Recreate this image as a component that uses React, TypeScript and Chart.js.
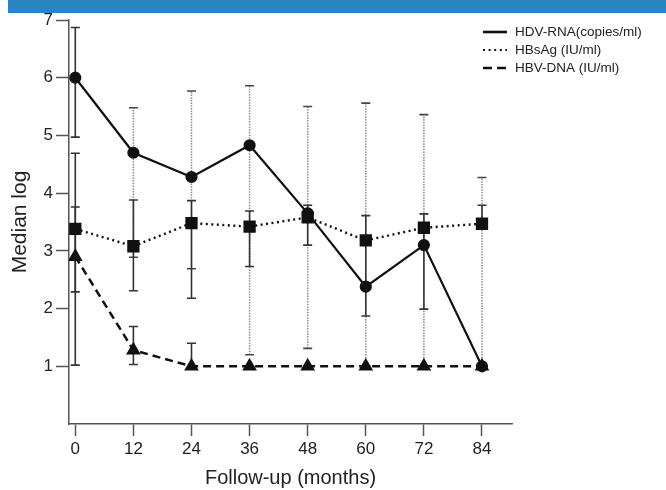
import React, { useEffect, useRef } from 'react';
import { Chart, registerables } from 'chart.js';

Chart.register(...registerables);

// ---- data ----
const months = [0, 12, 24, 36, 48, 60, 72, 84];
const seriesLabels = ['HDV-RNA(copies/ml)', 'HBsAg (IU/ml)', 'HBV-DNA (IU/ml)'];

const hdvRna = [6.0, 4.7, 4.28, 4.83, 3.65, 2.38, 3.1, 1.0];
const hdvLow = [4.97, 2.89, 2.69, 1.2, 1.31, 1.0, 1.0, 1.0];
const hdvHigh = [6.87, 5.48, 5.77, 5.86, 5.5, 5.56, 5.36, 4.27];

const hbsAg = [3.38, 3.08, 3.48, 3.42, 3.58, 3.18, 3.4, 3.47];
const hbsLow = [2.29, 2.31, 2.18, 2.73, 3.1, 1.87, 1.99, 3.46];
const hbsHigh = [4.69, 3.88, 3.87, 3.69, 3.79, 3.61, 3.64, 3.79];

const hbvDna = [2.9, 1.28, 1.0, 1.0, 1.0, 1.0, 1.0, 1.0];
const hbvLow = [1.02, 1.03, 1.0, null, null, null, null, null];
const hbvHigh = [3.76, 1.69, 1.4, null, null, null, null, null];

const yTickValues = [1, 2, 3, 4, 5, 6, 7];

const FONT = '"Liberation Sans", Arial, Helvetica, sans-serif';
const INK = '#111';
const AXIS = '#555';

const toPoints = (vals: number[]) => months.map((m, i) => ({ x: m, y: vals[i] }));

const bannerPlugin = {
  id: 'banner',
  beforeDraw(chart: any) {
    const { ctx } = chart;
    ctx.save();
    ctx.fillStyle = '#fff';
    ctx.fillRect(0, 0, chart.width, chart.height);
    ctx.fillStyle = '#2A86C3';
    ctx.fillRect(8, 0, chart.width - 8, 13);
    ctx.restore();
  },
};

const errorBarPlugin = {
  id: 'errorBars',
  beforeDatasetsDraw(chart: any) {
    const { ctx } = chart;
    const xs = chart.scales.x;
    const ys = chart.scales.y;
    const segs: any[] = [];
    chart.data.datasets.forEach((ds: any) => {
      if (!ds.errLow) return;
      ds.data.forEach((p: any, i: number) => {
        const lo = ds.errLow[i];
        const hi = ds.errHigh[i];
        if (lo == null || hi == null) return;
        const dotted = ds.errDotted && !(ds.errSolidAt || []).includes(i);
        segs.push({
          x: xs.getPixelForValue(p.x),
          y1: ys.getPixelForValue(lo),
          y2: ys.getPixelForValue(hi),
          dotted,
        });
      });
    });
    segs.sort((a, b) => (a.dotted === b.dotted ? 0 : a.dotted ? -1 : 1));
    ctx.save();
    ctx.lineCap = 'butt';
    segs.forEach((s) => {
      if (s.dotted) {
        ctx.strokeStyle = '#8a8a8a';
        ctx.lineWidth = 1.5;
        ctx.setLineDash([1.5, 1.2]);
      } else {
        ctx.strokeStyle = '#333';
        ctx.lineWidth = 1.6;
        ctx.setLineDash([]);
      }
      ctx.beginPath();
      ctx.moveTo(s.x, s.y1);
      ctx.lineTo(s.x, s.y2);
      ctx.stroke();
      ctx.setLineDash([]);
      ctx.strokeStyle = s.dotted ? '#444' : '#333';
      ctx.lineWidth = 1.6;
      const hw = 4.5;
      ctx.beginPath();
      ctx.moveTo(s.x - hw, s.y1);
      ctx.lineTo(s.x + hw, s.y1);
      ctx.moveTo(s.x - hw, s.y2);
      ctx.lineTo(s.x + hw, s.y2);
      ctx.stroke();
    });
    ctx.restore();
  },
};

const legendPlugin = {
  id: 'customLegend',
  afterDraw(chart: any) {
    const { ctx } = chart;
    const rows = [
      { dash: [] as number[], width: 2.6, y: 32 },
      { dash: [2, 3.6], width: 2.2, y: 50 },
      { dash: [9, 5], width: 2.6, y: 68 },
    ];
    ctx.save();
    ctx.font = `13.5px ${FONT}`;
    ctx.textBaseline = 'middle';
    ctx.textAlign = 'left';
    rows.forEach((r, i) => {
      ctx.strokeStyle = INK;
      ctx.lineWidth = r.width;
      ctx.setLineDash(r.dash);
      ctx.beginPath();
      ctx.moveTo(483, r.y);
      ctx.lineTo(507, r.y);
      ctx.stroke();
      ctx.setLineDash([]);
      ctx.fillStyle = '#222';
      ctx.fillText(chart.data.datasets[i].label, 515, r.y);
    });
    ctx.restore();
  },
};

export default function App() {
  const ref = useRef<HTMLCanvasElement>(null);

  useEffect(() => {
    if (!ref.current) return;
    const chart = new Chart(ref.current, {
      type: 'line',
      data: {
        datasets: [
          {
            label: seriesLabels[0],
            data: toPoints(hdvRna),
            borderColor: INK,
            backgroundColor: INK,
            borderWidth: 2.2,
            pointStyle: 'circle',
            pointRadius: 5,
            pointBackgroundColor: INK,
            pointBorderColor: INK,
            tension: 0,
            errLow: hdvLow,
            errHigh: hdvHigh,
            errDotted: true,
            errSolidAt: [0],
          } as any,
          {
            label: seriesLabels[1],
            data: toPoints(hbsAg),
            borderColor: INK,
            backgroundColor: INK,
            borderWidth: 2.4,
            borderDash: [2, 3.5],
            pointStyle: 'rect',
            pointRadius: 7,
            pointBackgroundColor: INK,
            pointBorderColor: INK,
            tension: 0,
            errLow: hbsLow,
            errHigh: hbsHigh,
          } as any,
          {
            label: seriesLabels[2],
            data: toPoints(hbvDna),
            borderColor: INK,
            backgroundColor: INK,
            borderWidth: 2.5,
            borderDash: [8, 5],
            pointStyle: 'triangle',
            pointRadius: 6,
            pointBackgroundColor: INK,
            pointBorderColor: INK,
            tension: 0,
            errLow: hbvLow,
            errHigh: hbvHigh,
          } as any,
        ],
      },
      options: {
        responsive: false,
        animation: false,
        layout: { padding: { top: 20, right: 154, left: 0, bottom: 0 } },
        plugins: {
          legend: { display: false },
          tooltip: { enabled: false },
        },
        scales: {
          x: {
            type: 'linear',
            min: -1.3,
            max: 90.2,
            afterBuildTicks: (s: any) => {
              s.ticks = months.map((v) => ({ value: v }));
            },
            afterFit: (s: any) => {
              s.height = 66;
            },
            grid: {
              drawOnChartArea: false,
              drawTicks: true,
              tickLength: 12,
              tickWidth: 1.5,
              tickColor: AXIS,
            },
            border: { display: true, color: AXIS, width: 1.5 },
            ticks: {
              font: { family: FONT, size: 17 },
              color: '#222',
              padding: 3,
              maxRotation: 0,
              autoSkip: false,
            },
            title: {
              display: true,
              text: 'Follow-up (months)',
              font: { family: FONT, size: 20 },
              color: '#222',
              padding: { top: 0, bottom: 0 },
            },
          },
          y: {
            min: 0,
            max: 7,
            afterBuildTicks: (s: any) => {
              s.ticks = yTickValues.map((v) => ({ value: v }));
            },
            afterFit: (s: any) => {
              s.width = 69;
            },
            grid: {
              drawOnChartArea: false,
              drawTicks: true,
              tickLength: 13,
              tickWidth: 1.5,
              tickColor: AXIS,
            },
            border: { display: true, color: AXIS, width: 1.5 },
            ticks: {
              font: { family: FONT, size: 17 },
              color: '#222',
              padding: 3,
            },
            title: {
              display: true,
              text: 'Median log',
              font: { family: FONT, size: 21 },
              color: '#222',
              padding: { top: 8, bottom: 0 },
            },
          },
        },
      },
      plugins: [bannerPlugin, errorBarPlugin, legendPlugin],
    } as any);
    return () => chart.destroy();
  }, []);

  return (
    <canvas
      ref={ref}
      width={666}
      height={490}
      style={{ position: 'absolute', left: 0, top: 0, display: 'block' }}
    />
  );
}
